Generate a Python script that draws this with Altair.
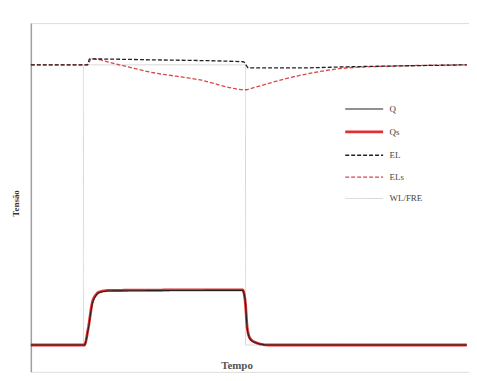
import altair as alt
import pandas as pd

q_t = [0, 12.2, 13.1, 14.0, 14.9, 15.8, 18.0, 48.3, 48.9, 49.4, 50.1, 51.5, 54.2, 99.5]
q_v = [0, 0, 0.057, 0.145, 0.177, 0.188, 0.193, 0.195, 0.16, 0.057, 0.02, 0.007, 0, 0]

qs_t = [0, 12.2, 13.1, 14.0, 14.9, 15.8, 18.0, 48.3, 48.9, 49.4, 50.1, 51.5, 54.2, 99.5]
qs_v = [0, 0, 0.06, 0.15, 0.18, 0.19, 0.195, 0.197, 0.16, 0.06, 0.022, 0.008, 0, 0]

el_t = [0, 12.9, 13.4, 27, 48.5, 49.7, 61, 72.3, 83.7, 99.5]
el_v = [1, 1, 1.021, 1.018, 1.011, 0.989, 0.989, 0.993, 0.996, 1.0]

els_t = [0, 12.9, 13.8, 20.2, 27, 38.3, 49.2, 50.1, 61, 72.3, 83.7, 99.5]
els_v = [1, 1, 1.021, 1.0, 0.975, 0.947, 0.911, 0.915, 0.961, 0.989, 0.996, 1.0]

wl_t = [0, 12.0, 12.0, 49.0, 49.0, 99.5]
wl_v = [0, 0, 1.0, 1.0, 0, 0]

rows = []
for k, (name, ts, vs) in enumerate([("WL/FRE", wl_t, wl_v), ("Qs", qs_t, qs_v), ("Q", q_t, q_v),
                                    ("ELs", els_t, els_v), ("EL", el_t, el_v)]):
    for i, (t, v) in enumerate(zip(ts, vs)):
        rows.append({"serie": name, "t": t, "v": v, "i": i, "z": k})
df = pd.DataFrame(rows)

legend_order = ["Q", "Qs", "EL", "ELs", "WL/FRE"]
colors = ["#222222", "#e0302f", "#222222", "#d9474b", "#d6d6d6"]
dashes = [[1, 0], [1, 0], [4, 2], [4, 2], [1, 0]]
widths = [1.1, 2.8, 1.3, 1.3, 1.0]

leg = dict(title=None, orient="none", legendX=318, legendY=70,
           symbolType="M-1.2,0H1.2", symbolSize=1010, rowPadding=0, labelOffset=8,
           labelFont="Liberation Serif", labelFontSize=9, labelColor="#444",
           symbolStrokeWidth=1.3, symbolFillColor="transparent")

chart = alt.Chart(df).mark_line(interpolate="monotone").encode(
    x=alt.X("t:Q", scale=alt.Scale(domain=[0, 100], nice=False),
            axis=alt.Axis(title="Tempo", domain=False, ticks=False, labels=False, grid=False,
                          titleX=207, titleY=-12, titleBaseline="top", titleFont="Liberation Serif",
                          titleFontSize=11, titleFontWeight="bold", titleColor="#555")),
    y=alt.Y("v:Q", scale=alt.Scale(domain=[-0.0957, 1.149], nice=False, zero=False),
            axis=alt.Axis(title="Tensão", ticks=False, labels=False, grid=False,
                          domainColor="#a0a0a0", domainWidth=1.5, titlePadding=10,
                          titleX=-10, titleY=181, titleAlign="center", titleAngle=270,
                          titleBaseline="bottom",
                          titleFont="Liberation Serif", titleFontSize=9,
                          titleFontWeight="bold", titleColor="#333")),
    color=alt.Color("serie:N", scale=alt.Scale(domain=legend_order, range=colors),
                    legend=alt.Legend(**leg)),
    strokeDash=alt.StrokeDash("serie:N", scale=alt.Scale(domain=legend_order, range=dashes),
                              legend=alt.Legend(**leg)),
    strokeWidth=alt.StrokeWidth("serie:N", scale=alt.Scale(type="ordinal", domain=legend_order, range=widths),
                                legend=None),
    order=alt.Order("i:Q"),
).properties(
    width=441, height=351,
    autosize=alt.AutoSizeParams(type="none"),
    padding={"left": 23, "top": 14, "right": 0, "bottom": 0},
).configure_view(stroke=None).configure(background="white")

chart.save("out.html", embed_options={"renderer": "svg", "actions": False})
